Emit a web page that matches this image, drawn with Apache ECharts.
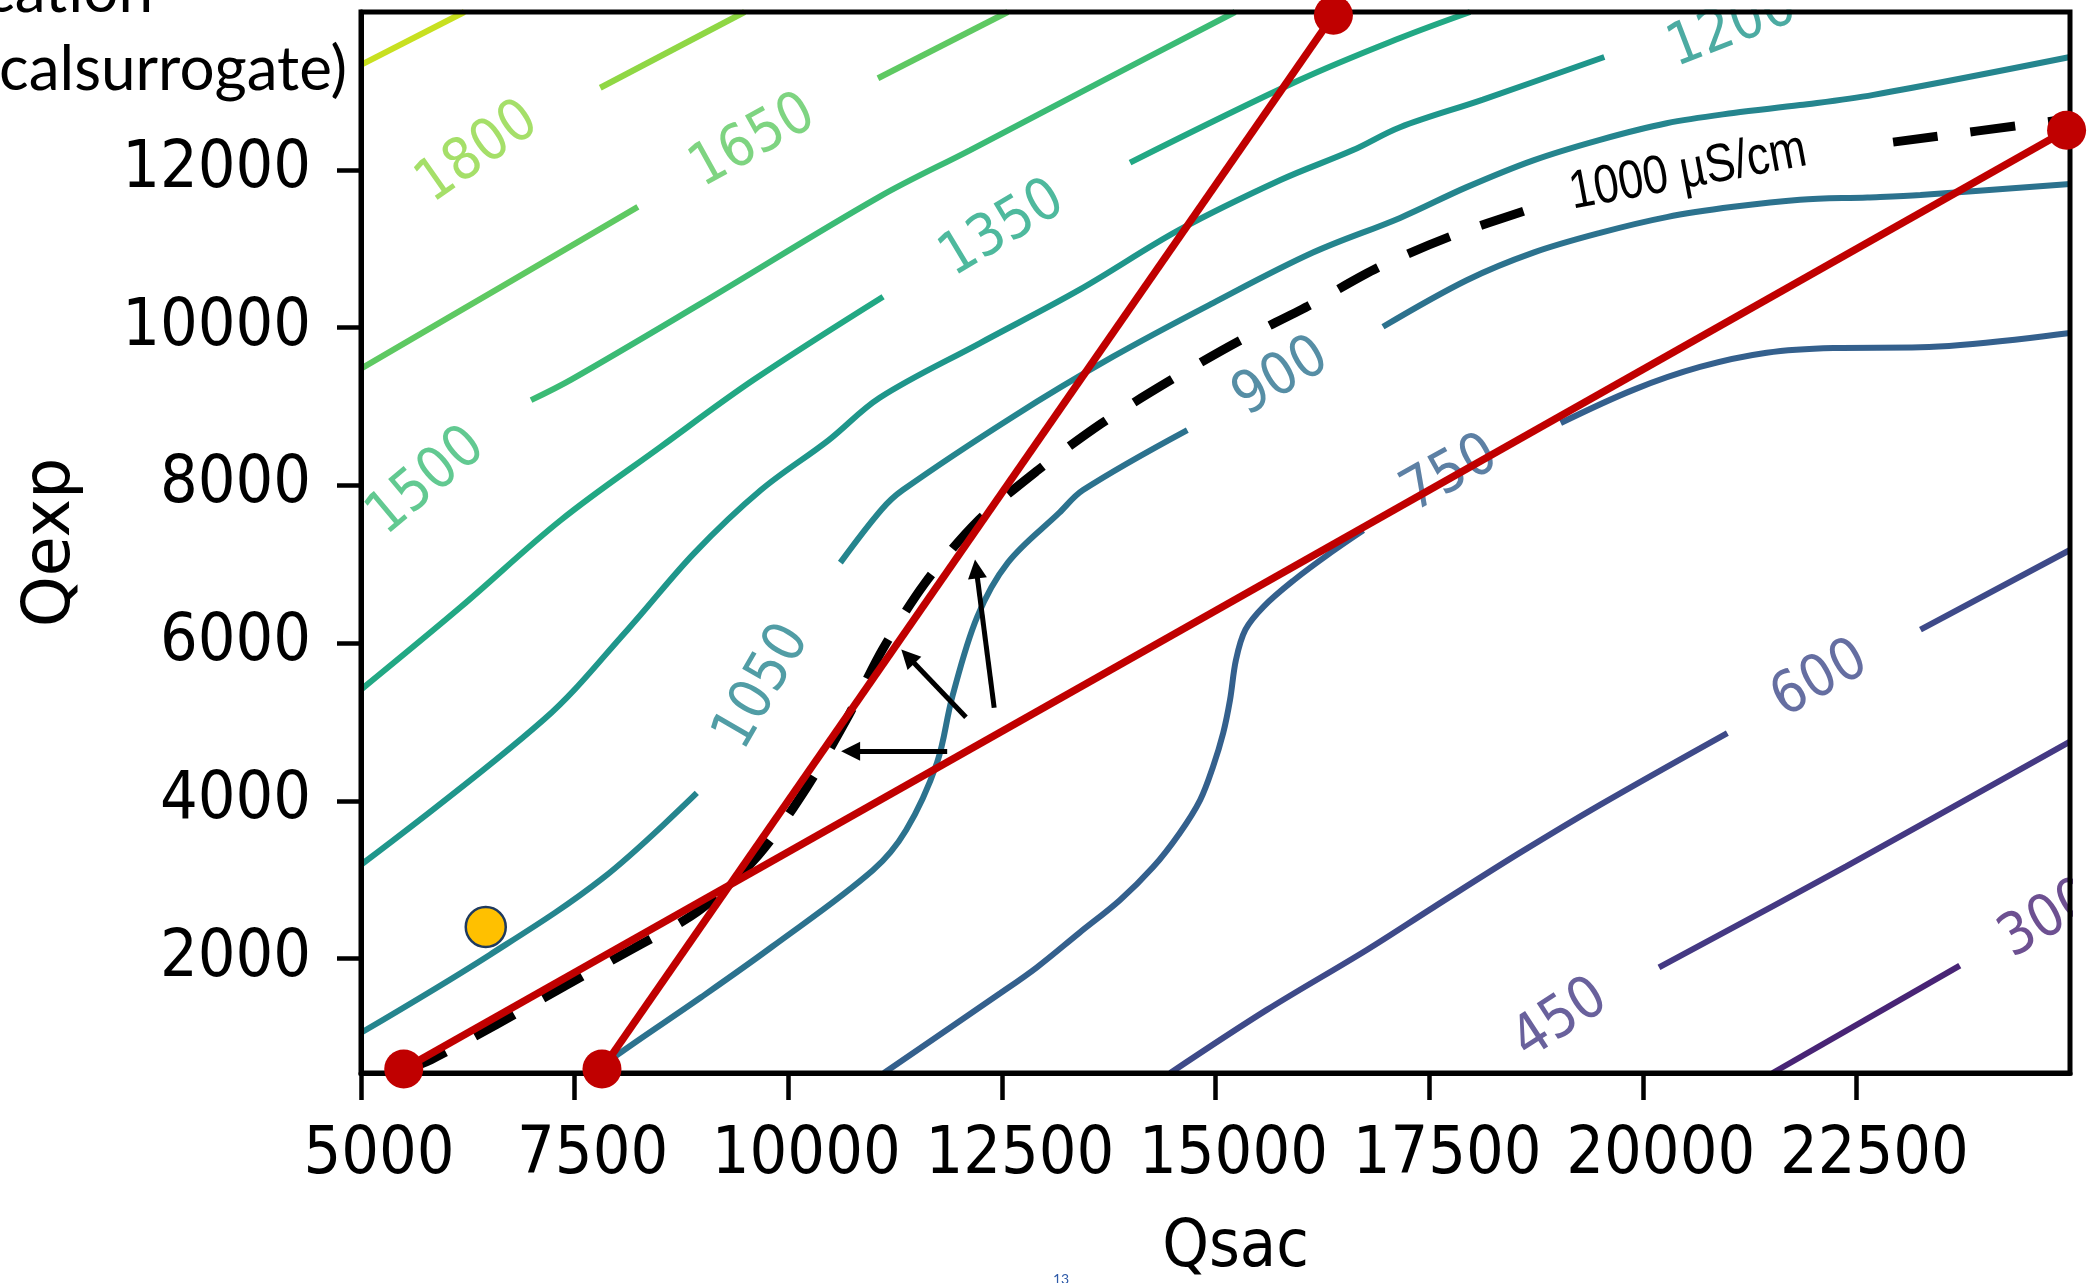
<!DOCTYPE html>
<html>
<head>
<meta charset="utf-8">
<script src="https://cdn.jsdelivr.net/npm/echarts@6.0.0/dist/echarts.min.js"></script>
<style>
html,body{margin:0;padding:0;background:#ffffff;overflow:hidden;}
#chart{width:2087px;height:1283px;}
</style>
</head>
<body>
<div id="chart"></div>
<script>
// ---------- axes ----------
const xTickValues = [5000, 7500, 10000, 12500, 15000, 17500, 20000, 22500];
const yTickValues = [2000, 4000, 6000, 8000, 10000, 12000];
const xRange = [5000, 25000];
const yRange = [550, 14000];

// ---------- contour levels and colours ----------
const levels = [300, 450, 600, 750, 900, 1050, 1200, 1350, 1500, 1650, 1800, 1950];
const levelColors = ['#482475', '#443983', '#3e4a89', '#34608d', '#2c728e', '#25858e',
                     '#1f968b', '#22a884', '#3bbb75', '#5ec962', '#8fd744', '#c8e020'];

// ---------- contour paths [Qsac, Qexp] ----------
const c1950  = [[5000, 13330], [6210, 14000]];
const c1800  = [[7800, 13040], [9490, 14000]];
const c1650a = [[5000, 9480], [6630, 10510], [8240, 11530]];
const c1650b = [[11050, 13160], [12570, 14000]];
const c1500  = [[6990, 9080], [7460, 9340], [8970, 10300], [11070, 11660], [12130, 12250], [13650, 13110], [15230, 14000]];
const c1350a = [[5000, 5410], [6170, 6460], [7340, 7560], [8510, 8490], [9600, 9340], [11110, 10390]];
const c1350b = [[14000, 12090], [15990, 13140], [17160, 13670], [17980, 14000]];
const c1200  = [[5000, 3190], [7140, 5030], [8120, 6170], [8900, 7140], [9680, 7940], [10470, 8570], [11070, 9110],
                [12240, 9800], [13410, 10480], [14580, 11240], [15760, 11870], [16610, 12250], [17160, 12540],
                [18130, 12890], [19550, 13430]];
const c1050a = [[5000, 1060], [6510, 2050], [7830, 3020], [8930, 4100]];
const c1050b = [[10610, 7020], [11090, 7690], [11340, 7940], [12630, 8870], [13800, 9630], [14970, 10310],
                [16140, 10950], [17160, 11390], [17940, 11780], [18720, 12120], [19500, 12380], [20280, 12590],
                [21060, 12720], [21840, 12820], [22700, 12950], [25000, 13430]];
const c900a  = [[7740, 550], [8000, 780], [8980, 1510], [9810, 2150], [10990, 3120], [11380, 3630], [11740, 4480],
                [11920, 5320], [12210, 6330], [12570, 7020], [13170, 7650], [13450, 7940], [14670, 8700]];
const c900b  = [[16960, 10010], [17940, 10600], [18720, 10950], [19500, 11200], [20280, 11400], [21060, 11530],
                [21840, 11620], [22630, 11650], [23250, 11680], [25000, 11820]];
const c750a  = [[11120, 550], [12480, 1560], [12910, 1890], [13410, 2330], [13880, 2740], [14270, 3160], [14580, 3590],
                [14820, 4010], [14970, 4430], [15090, 4860], [15170, 5280], [15240, 5790], [15350, 6170],
                [15560, 6460], [15920, 6800], [16340, 7140], [16730, 7430]];
const c750b  = [[19040, 8790], [19890, 9210], [20670, 9500], [21450, 9680], [22230, 9740], [23250, 9750], [25000, 9930]];
const c600a  = [[14470, 550], [15600, 1350], [16770, 2110], [17550, 2650], [18560, 3340], [19500, 3950], [20990, 4860]];
const c600b  = [[23250, 6170], [25000, 7180]];
const c450   = [[20190, 1890], [22380, 3170], [25000, 4750]];
const c300   = [[21520, 550], [23710, 1910]];

const contourSegments = [
  [1950, c1950], [1800, c1800], [1650, c1650a], [1650, c1650b], [1500, c1500],
  [1350, c1350a], [1350, c1350b], [1200, c1200], [1050, c1050a], [1050, c1050b],
  [900, c900a], [900, c900b], [750, c750a], [750, c750b], [600, c600a], [600, c600b],
  [450, c450], [300, c300]
];

// inline contour labels: [Qsac, Qexp, level, angle]
const contourLabels = [
  [6370, 12210, 1800, 35],
  [9590, 12350, 1650, 29],
  [5770, 8040, 1500, 40],
  [12510, 11240, 1350, 31],
  [21050, 13790, 1200, 21],
  [9705, 5440, 1050, 60],
  [15770, 9360, 900, 31],
  [17745, 8130, 750, 29],
  [22075, 5530, 600, 29],
  [19040, 1220, 450, 33],
  [24740, 2490, 300, 30]
];

// 1000 µS/cm boundary (dashed)
const boundaryPart1 = [[5510, 590], [5820, 720], [6580, 1160], [7380, 1650], [8190, 2130], [8970, 2620],
                       [9650, 3310], [10210, 4160], [10680, 5030], [11110, 5930], [11600, 6760], [12210, 7540],
                       [12920, 8190], [13660, 8780], [14440, 9310], [15260, 9820], [16080, 10270], [16900, 10760],
                       [17760, 11160], [18620, 11480], [18920, 11590]];
const boundaryPart2 = [[22930, 12350], [24880, 12630]];
const boundaryLabel = {text: '1000 \u00B5S/cm', pos: [20530, 11970], angle: 10.6};

// red linear approximations
const redLineA = [[5500, 600], [24960, 12500]];
const redLineB = [[7820, 600], [16380, 13960]];
const redPoints = [[5500, 600], [7820, 600], [16380, 13960], [24960, 12500]];
const samplePoint = [[6460, 2400]];

// arrows [from, to]
const arrows = [
  [[11860, 4630], [10730, 4630]],
  [[12080, 5060], [11400, 5830]],
  [[12410, 5180], [12200, 6940]]
];

// ---------- build ----------
const tickFont = "'DejaVu Sans Condensed', 'DejaVu Sans', sans-serif";
function colorOf(level) { return levelColors[levels.indexOf(level)]; }
function plainNumber(v) { return String(v); }

const series = [];
contourSegments.forEach(function (seg) {
  series.push({
    type: 'line', data: seg[1], showSymbol: false, symbol: 'none', smooth: 0.35,
    clip: true, silent: true, z: 2,
    lineStyle: {color: colorOf(seg[0]), width: 6}
  });
});
series.push({
  type: 'scatter', silent: true, z: 3, symbolSize: 0,
  data: contourLabels.map(function (l) {
    return {value: [l[0], l[1], String(l[2])], label: {rotate: l[3], color: colorOf(l[2])}};
  }),
  label: {show: true, position: 'inside', formatter: function (p) { return p.value[2]; },
          fontFamily: tickFont, fontSize: 58, align: 'center', verticalAlign: 'middle'}
});
[boundaryPart1, boundaryPart2].forEach(function (d) {
  series.push({
    type: 'line', data: d, showSymbol: false, symbol: 'none', smooth: 0.3, silent: true, z: 4, clip: false,
    lineStyle: {color: '#000', width: 9, type: [45, 33], cap: 'butt'}
  });
});
[redLineA, redLineB].forEach(function (d) {
  series.push({
    type: 'line', data: d, showSymbol: false, symbol: 'none', silent: true, z: 5, clip: false,
    lineStyle: {color: '#C00000', width: 7.5}
  });
});
series.push({
  type: 'line', data: [], silent: true, z: 12,
  markLine: {
    silent: true, animation: false, symbol: ['none', 'triangle'], symbolSize: 19,
    label: {show: false}, lineStyle: {color: '#000', width: 5, type: 'solid'},
    itemStyle: {color: '#000'},
    emphasis: {disabled: true},
    data: arrows.map(function (a) { return [{coord: a[0]}, {coord: a[1]}]; })
  }
});
series.push({
  type: 'scatter', data: redPoints, symbolSize: 39, silent: true, z: 20,
  itemStyle: {color: '#C00000', opacity: 1}
});
series.push({
  type: 'scatter', data: samplePoint, symbolSize: 40, silent: true, z: 20,
  itemStyle: {color: '#FFC000', borderColor: '#1F3A5F', borderWidth: 2.5, opacity: 1}
});

const chart = echarts.init(document.getElementById('chart'), null, {renderer: 'canvas', width: 2087, height: 1283});
chart.setOption({
  animation: false,
  backgroundColor: '#ffffff',
  textStyle: {fontFamily: tickFont},
  grid: {left: 361, right: 17, top: 12, bottom: 210, show: true, borderColor: '#000', borderWidth: 5,
         backgroundColor: 'transparent', containLabel: false, outerBoundsMode: 'none', z: 10},
  xAxis: {
    type: 'value', min: xRange[0], max: xRange[1], interval: 2500, z: 10,
    axisLine: {show: true, onZero: false, lineStyle: {color: '#000', width: 5}},
    axisTick: {show: true, inside: false, length: 27, customValues: xTickValues, lineStyle: {color: '#000', width: 4.5}},
    axisLabel: {show: true, customValues: xTickValues, formatter: plainNumber, color: '#000', fontFamily: tickFont,
                fontSize: 66, margin: 50, padding: [0, 0, 0, 36], hideOverlap: false, interval: 0},
    splitLine: {show: false},
    name: 'Qsac', nameLocation: 'middle', nameGap: 143,
    nameTextStyle: {color: '#000', fontFamily: tickFont, fontSize: 66, padding: [0, 0, 0, 40]}
  },
  yAxis: {
    type: 'value', min: yRange[0], max: yRange[1], z: 10,
    axisLine: {show: true, onZero: false, lineStyle: {color: '#000', width: 5}},
    axisTick: {show: true, inside: false, length: 24, customValues: yTickValues, lineStyle: {color: '#000', width: 4.5}},
    axisLabel: {show: true, customValues: yTickValues, formatter: plainNumber, color: '#000', fontFamily: tickFont,
                fontSize: 66, margin: 50, hideOverlap: false, interval: 0},
    splitLine: {show: false},
    name: 'Qexp', nameLocation: 'middle', nameRotate: 90, nameGap: 276,
    nameTextStyle: {color: '#000', fontFamily: "'DejaVu Sans', sans-serif", fontSize: 65}
  },
  series: series
});

const lp = chart.convertToPixel({gridIndex: 0}, boundaryLabel.pos);
chart.setOption({
  graphic: [
    {type: 'text', x: 153, y: -8, z: 30,
     style: {text: 'cation', fontFamily: 'Lato', fontSize: 62, fill: '#000', align: 'right', verticalAlign: 'middle'}},
    {type: 'text', x: 347, y: 70, z: 30,
     style: {text: 'calsurrogate)', fontFamily: 'Lato', fontSize: 62, fill: '#000', align: 'right', verticalAlign: 'middle'}},
    {type: 'text', x: 1061, y: 1279, z: 30,
     style: {text: '13', fontFamily: 'Lato', fontSize: 14, fill: '#2E5AA8', align: 'center', verticalAlign: 'middle'}},
    {type: 'rect', z: 8, shape: {x: 1600, y: 0, width: 260, height: 9.5}, style: {fill: '#ffffff'}},
    {type: 'rect', z: 8, shape: {x: 2073, y: 820, width: 14, height: 200}, style: {fill: '#ffffff'}},
    {type: 'text', x: lp[0], y: lp[1], z: 15, rotation: boundaryLabel.angle * Math.PI / 180, scaleX: 0.83,
     style: {text: boundaryLabel.text, fontFamily: "'Liberation Sans', Arial, sans-serif", fontSize: 54,
             fill: '#000', align: 'center', verticalAlign: 'middle'}}
  ]
});
</script>
</body>
</html>
